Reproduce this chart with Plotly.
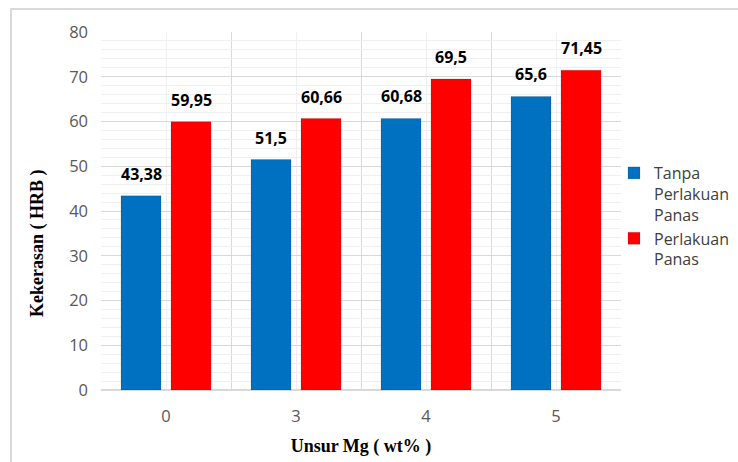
import plotly.graph_objects as go

# Mg content (wt%) and Rockwell B hardness for both conditions
mg_labels = ["0", "3", "4", "5"]
tanpa_perlakuan = [43.38, 51.5, 60.68, 65.6]
perlakuan_panas = [59.95, 60.66, 69.5, 71.45]
y_ticks = [0, 10, 20, 30, 40, 50, 60, 70, 80]

positions = list(range(len(mg_labels)))
BAR_W = 40 / 130
OFFSETS = {"blue": -45 / 130, "red": 5 / 130}


def fmt(v):
    return f"{v:g}".replace(".", ",")


fig = go.Figure()
series = [
    ("Tanpa<br>Perlakuan<br>Panas", tanpa_perlakuan, "#0070C0", OFFSETS["blue"]),
    ("Perlakuan<br>Panas", perlakuan_panas, "#FF0000", OFFSETS["red"]),
]
for name, vals, color, off in series:
    fig.add_trace(go.Bar(
        x=positions, y=vals, name=name,
        width=BAR_W, offset=off,
        marker=dict(color=color, line=dict(color="rgba(0,0,0,0.12)", width=1)),
        hoverinfo="skip",
    ))
    for p, v in zip(positions, vals):
        fig.add_annotation(
            x=p + off + BAR_W / 2, y=v, xref="x", yref="y",
            text=f"<b>{fmt(v)}</b>", showarrow=False,
            yanchor="bottom", yshift=9,
            font=dict(family="Open Sans", size=16, color="#000000"),
        )

# y-axis title, centred on the chart frame
fig.add_annotation(
    xref="paper", yref="paper", x=(37 - 101) / 520, y=(390 - 243) / 358,
    text="<b>Kekerasan ( HRB )</b>", textangle=-90, showarrow=False,
    font=dict(family="Liberation Serif", size=18, color="#000000"),
    xanchor="center", yanchor="middle",
)

# outer chart frame
fig.add_shape(
    type="rect", xref="paper", yref="paper",
    x0=(11 - 101) / 520, x1=(745 - 101) / 520,
    y0=(390 - 470) / 358, y1=(390 - 9) / 358,
    line=dict(color="#D9D9D9", width=2), fillcolor="rgba(0,0,0,0)", layer="below",
)

fig.update_layout(
    width=738, height=462,
    margin=dict(l=101, r=117, t=32, b=72, autoexpand=False),
    paper_bgcolor="white", plot_bgcolor="white",
    showlegend=True,
    legend=dict(
        x=(614 - 101) / 520, y=(390 - 156) / 358, xanchor="left", yanchor="top",
        font=dict(family="Open Sans", size=16, color="#404040"),
        valign="top", tracegroupgap=11, itemwidth=30,
        bgcolor="rgba(0,0,0,0)",
    ),
    xaxis=dict(
        range=[-0.5, 3.5], tickmode="array", tickvals=positions, ticktext=mg_labels,
        showgrid=True, gridcolor="#F0F0F0", gridwidth=1,
        minor=dict(tick0=-0.5, dtick=1, showgrid=True, gridcolor="#D9D9D9", gridwidth=1),
        zeroline=False, showline=False, ticks="",
        ticklabelstandoff=14,
        tickfont=dict(family="Open Sans", size=16.5, color="#595959"),
        title=dict(text="<b>Unsur Mg ( wt% )</b>", standoff=13,
                   font=dict(family="Liberation Serif", size=18, color="#000000")),
        fixedrange=True,
    ),
    yaxis=dict(
        range=[0, 80], tickmode="array", tickvals=y_ticks,
        showgrid=True, gridcolor="#D9D9D9", gridwidth=1,
        minor=dict(dtick=2, showgrid=True, gridcolor="#F0F0F0", gridwidth=1),
        zeroline=True, zerolinecolor="#D9D9D9", zerolinewidth=2,
        showline=False, ticks="", ticklabelstandoff=12,
        tickfont=dict(family="Open Sans", size=16.5, color="#595959"),
        fixedrange=True,
    ),
)

fig.write_html("out.html")
